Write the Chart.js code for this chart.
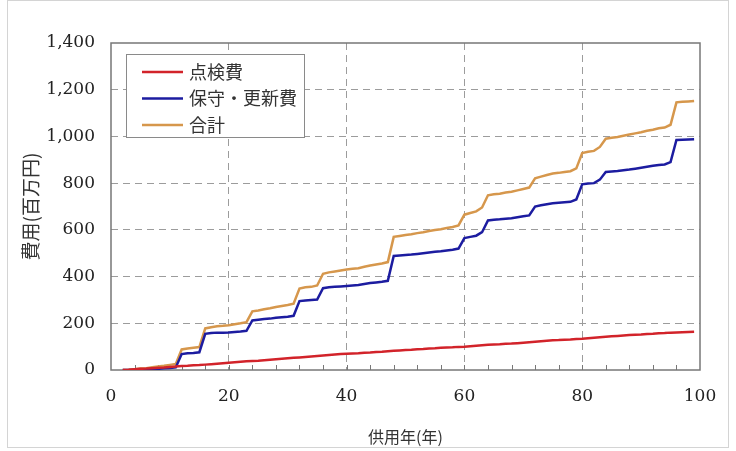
<!DOCTYPE html>
<html>
<head>
<meta charset="utf-8">
<script src="https://cdn.jsdelivr.net/npm/chart.js@4.4.1/dist/chart.umd.min.js"></script>
<style>
html, body { margin: 0; padding: 0; background: #fff; }
#wrap { position: relative; width: 736px; height: 451px; }
#frame { position: absolute; left: 7px; top: 0; width: 720px; height: 446px; border: 1px solid #d4d4d4; pointer-events: none; }
</style>
</head>
<body>
<div id="wrap">
  <canvas id="chart" width="736" height="451"></canvas>
  <div id="frame"></div>
</div>
<script>
// 供用年 (years in service)
const years = [
  2, 3, 4, 5, 6, 7, 8, 9, 10, 11, 12, 13, 14, 15, 16, 17, 18, 19, 20,
  21, 22, 23, 24, 25, 26, 27, 28, 29, 30, 31, 32, 33, 34, 35, 36, 37, 38, 39, 40,
  41, 42, 43, 44, 45, 46, 47, 48, 49, 50, 51, 52, 53, 54, 55, 56, 57, 58, 59, 60,
  61, 62, 63, 64, 65, 66, 67, 68, 69, 70, 71, 72, 73, 74, 75, 76, 77, 78, 79, 80,
  81, 82, 83, 84, 85, 86, 87, 88, 89, 90, 91, 92, 93, 94, 95, 96, 97, 98, 99
];

// 点検費
const inspection = [
  0, 1, 3, 5, 6, 8, 10, 11, 13, 15, 17, 18, 20, 21, 23, 25, 27, 29, 31,
  33, 35, 37, 39, 40, 42, 44, 46, 48, 50, 52, 54, 56, 58, 60, 62, 64, 66, 68, 70,
  71, 72, 74, 75, 77, 78, 80, 82, 84, 86, 87, 89, 90, 92, 93, 95, 96, 97, 99, 100,
  102, 104, 106, 108, 109, 110, 112, 113, 115, 117, 119, 121, 123, 125, 127, 128, 130, 131, 133, 134,
  136, 138, 140, 142, 144, 146, 148, 150, 151, 152, 154, 155, 157, 158, 160, 161, 162, 163, 164
];

// 保守・更新費
const maintenance = [
  0, 0, 0, 1, 2, 4, 5, 7, 9, 11, 68, 72, 73, 76, 155, 158, 160, 160, 161,
  163, 165, 168, 212, 215, 218, 220, 224, 226, 228, 232, 295, 298, 300, 302, 350, 354, 356, 358, 360,
  362, 364, 368, 372, 375, 378, 382, 488, 490, 492, 494, 497, 500, 503, 506, 508, 512, 515, 520, 565,
  570, 575, 590, 640, 643, 645, 648, 650, 654, 658, 662, 700, 705, 710, 714, 716, 718, 720, 730, 795,
  798, 800, 815, 848, 850, 852, 855, 858, 862, 866, 870, 874, 878, 880, 890, 985, 986, 987, 988
];

// 合計
const total = [
  0, 1, 3, 6, 8, 12, 15, 18, 22, 26, 88, 92, 95, 98, 178, 183, 187, 189, 192,
  196, 200, 205, 251, 255, 260, 264, 270, 274, 278, 284, 349, 354, 356, 362, 412, 418, 422, 426, 430,
  433, 436, 442, 447, 452, 456, 462, 570, 574, 578, 581, 586, 590, 595, 599, 603, 608, 612, 619, 665,
  672, 679, 696, 748, 752, 755, 760, 763, 769, 775, 781, 821, 828, 835, 841, 844, 848, 851, 863, 929,
  934, 938, 955, 990, 994, 998, 1003, 1008, 1013, 1018, 1024, 1029, 1035, 1038, 1050, 1146, 1148, 1150, 1152
];

const seriesNames = ['点検費', '保守・更新費', '合計'];
const seriesColors = ['#d2232a', '#1c1ca0', '#d6974c'];

const serifFont = '"DejaVu Serif", "Liberation Serif", serif';
const cjkFont = '"Noto Sans CJK JP", "Noto Sans", sans-serif';

function toPoints(values) {
  return values.map((v, i) => ({ x: years[i], y: v }));
}

// plot frame, inner minor ticks and the legend box
const decorPlugin = {
  id: 'decor',
  beforeDatasetsDraw(chart) {
    const { ctx, chartArea: a, scales } = chart;
    ctx.save();
    ctx.strokeStyle = '#777';
    ctx.lineWidth = 1.5;
    ctx.strokeRect(a.left, a.top, a.right - a.left, a.bottom - a.top);
    ctx.lineWidth = 1;
    for (let v = 4; v < 100; v += 4) {
      const x = Math.round(scales.x.getPixelForValue(v)) + 0.5;
      ctx.beginPath();
      ctx.moveTo(x, a.bottom);
      ctx.lineTo(x, a.bottom - 5);
      ctx.stroke();
    }
    ctx.restore();
  },
  afterDatasetsDraw(chart) {
    const ctx = chart.ctx;
    const box = { x: 126.5, y: 54.5, w: 178, h: 83 };
    ctx.save();
    ctx.fillStyle = '#fff';
    ctx.fillRect(box.x, box.y, box.w, box.h);
    ctx.strokeStyle = '#8a8a8a';
    ctx.lineWidth = 1;
    ctx.strokeRect(box.x, box.y, box.w, box.h);
    ctx.font = '18px ' + cjkFont;
    ctx.textBaseline = 'middle';
    ctx.fillStyle = '#333';
    chart.data.datasets.forEach((ds, i) => {
      const y = 72 + i * 26.5;
      ctx.strokeStyle = ds.borderColor;
      ctx.lineWidth = 2.5;
      ctx.beginPath();
      ctx.moveTo(142, y);
      ctx.lineTo(183, y);
      ctx.stroke();
      ctx.fillText(ds.label, 189, y);
    });
    ctx.restore();
  }
};

new Chart(document.getElementById('chart'), {
  type: 'line',
  data: {
    datasets: [
      { label: seriesNames[0], data: toPoints(inspection), borderColor: seriesColors[0] },
      { label: seriesNames[1], data: toPoints(maintenance), borderColor: seriesColors[1] },
      { label: seriesNames[2], data: toPoints(total), borderColor: seriesColors[2] }
    ]
  },
  options: {
    responsive: false,
    animation: false,
    datasets: { line: { borderWidth: 2.5, pointRadius: 0, tension: 0, fill: false } },
    layout: { padding: { left: 0, top: 43, right: 36, bottom: 0 } },
    plugins: { legend: { display: false }, tooltip: { enabled: false } },
    scales: {
      x: {
        type: 'linear',
        min: 0,
        max: 100,
        afterFit: (s) => { s.height = 81; },
        ticks: {
          stepSize: 4,
          autoSkip: false,
          maxRotation: 0,
          padding: 16,
          color: '#222',
          font: { family: serifFont, size: 17 },
          callback: (v) => (v % 20 === 0 ? v : '')
        },
        grid: {
          drawTicks: false,
          lineWidth: 1,
          color: (c) => (c.tick && c.tick.value % 20 === 0 && c.tick.value > 0 && c.tick.value < 100 ? '#9c9c9c' : 'rgba(0,0,0,0)')
        },
        border: { display: false, dash: [7, 5] },
        title: {
          display: true,
          text: '供用年(年)',
          color: '#333',
          font: { family: cjkFont, size: 16 },
          padding: { top: 0, bottom: 4 }
        }
      },
      y: {
        min: 0,
        max: 1400,
        afterFit: (s) => { s.width = 111; },
        ticks: {
          stepSize: 200,
          padding: 16,
          color: '#222',
          font: { family: serifFont, size: 17 },
          callback: (v) => v.toLocaleString('en-US')
        },
        grid: {
          drawTicks: false,
          lineWidth: 1,
          color: (c) => (c.tick && c.tick.value > 0 && c.tick.value < 1400 ? '#9c9c9c' : 'rgba(0,0,0,0)')
        },
        border: { display: false, dash: [7, 5] },
        title: {
          display: true,
          text: '費用(百万円)',
          color: '#333',
          font: { family: cjkFont, size: 19 },
          padding: { top: 19, bottom: 0 }
        }
      }
    }
  },
  plugins: [decorPlugin]
});
</script>
</body>
</html>
